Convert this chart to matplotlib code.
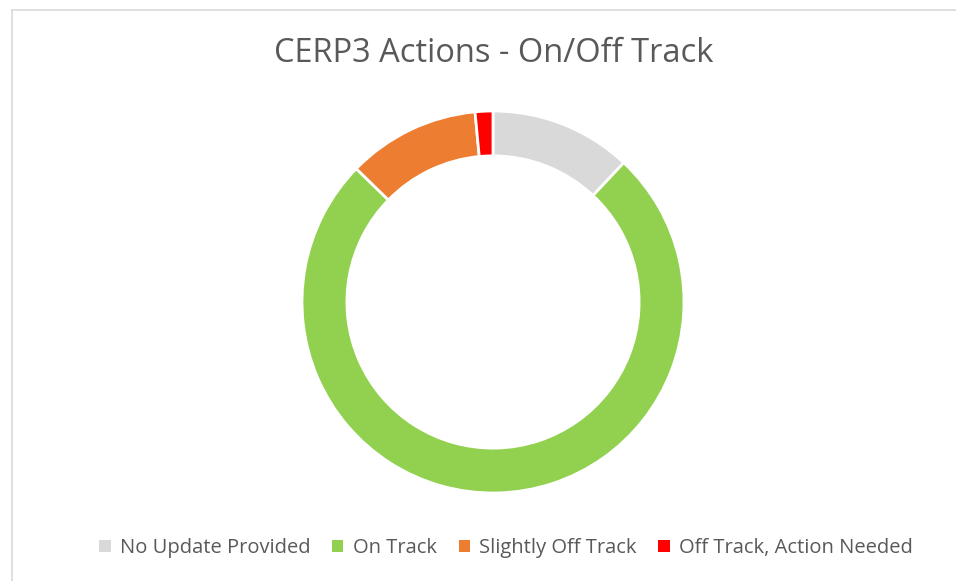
import matplotlib.pyplot as plt
from matplotlib.lines import Line2D
from matplotlib.patches import Patch

# data (share of actions)
labels = ['No Update Provided', 'On Track', 'Slightly Off Track', 'Off Track, Action Needed']
values = [12.0, 75.3, 11.2, 1.5]
colors = ['#d9d9d9', '#92d050', '#ed7d31', '#ff0000']

W, H = 956, 581
fig = plt.figure(figsize=(W / 100, H / 100), dpi=100)
plt.rcParams['font.family'] = ['Open Sans', 'DejaVu Sans']

# chart-area border (left and top edges visible)
fig.add_artist(Line2D([12 / W, 12 / W], [0, 1 - 10 / H], color='#d9d9d9', lw=1.2))
fig.add_artist(Line2D([12 / W, 1], [1 - 10 / H, 1 - 10 / H], color='#d9d9d9', lw=1.2))

cx, cy, r = 493, 302, 191
ax = fig.add_axes([(cx - r) / W, (H - cy - r) / H, 2 * r / W, 2 * r / H])
ax.pie(values, colors=colors, startangle=90, counterclock=False,
       wedgeprops=dict(width=0.235, edgecolor='white', linewidth=2))
ax.set_xlim(-1, 1)
ax.set_ylim(-1, 1)
ax.set_aspect('equal')
ax.axis('off')

fig.text(494 / W, 1 - 54 / H, 'CERP3 Actions - On/Off Track', ha='center', va='center',
         fontsize=23.5, color='#595959')

handles = [Patch(facecolor=c, edgecolor='none') for c in colors]
fig.legend(handles, labels, loc='center', bbox_to_anchor=(506 / W, 1 - 548 / H), ncol=4,
           frameon=False, fontsize=14.5, labelcolor='#595959',
           handlelength=0.55, handleheight=0.55, handletextpad=0.45, columnspacing=1.1)

fig.savefig('out.png', dpi=100, facecolor='white')
